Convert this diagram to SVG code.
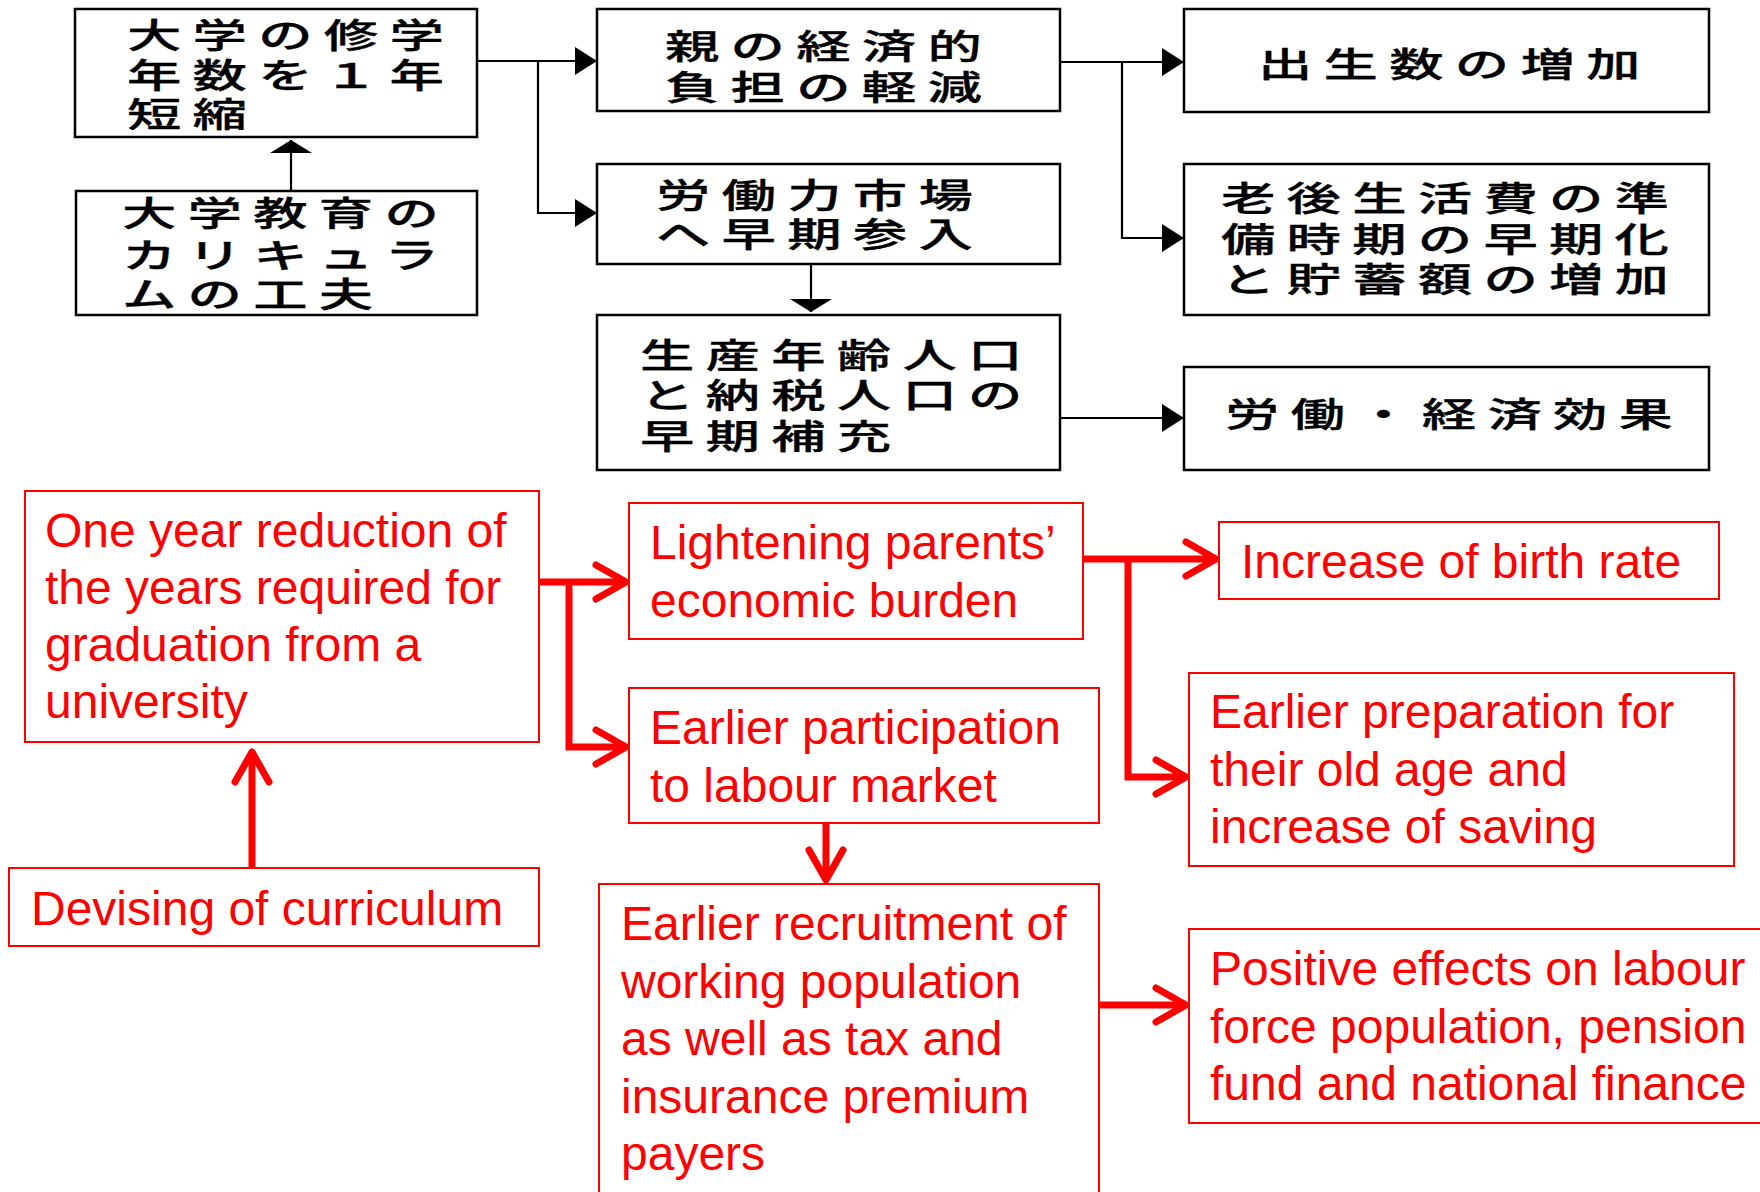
<svg xmlns="http://www.w3.org/2000/svg" width="1760" height="1192" viewBox="0 0 1760 1192">
<style>
.bbox{fill:none;stroke:#000;stroke-width:2.5}
.rbox{fill:none;stroke:#ff0000;stroke-width:2}
.jp{font-family:"Noto Sans CJK JP","Noto Sans CJK SC",sans-serif;font-size:34px;font-weight:500;letter-spacing:7px;fill:#000;stroke:#000;stroke-width:0.3px}
.en{font-family:"Liberation Sans",Arial,sans-serif;font-size:48px;fill:#ff0000}
.bl{fill:none;stroke:#000;stroke-width:2.2}
.rl{fill:none;stroke:#ff0000;stroke-width:7}
</style>
<defs>
<marker id="triH" markerUnits="userSpaceOnUse" markerWidth="60" markerHeight="60" viewBox="-30 -30 60 60" refX="0" refY="0" orient="auto" overflow="visible">
<path d="M-22,-14 L0,0 L-22,14 Z" fill="#000"/>
</marker>
<marker id="triV" markerUnits="userSpaceOnUse" markerWidth="60" markerHeight="60" viewBox="-30 -30 60 60" refX="0" refY="0" orient="auto" overflow="visible">
<path d="M-13,-21 L0,0 L-13,21 Z" fill="#000"/>
</marker>
<marker id="chev" markerUnits="userSpaceOnUse" markerWidth="80" markerHeight="80" viewBox="-40 -40 80 80" refX="0" refY="0" orient="auto" overflow="visible">
<path d="M-30,-17 L0,0 L-30,17" fill="none" stroke="#ff0000" stroke-width="7" stroke-linecap="round" stroke-linejoin="round"/>
</marker>
</defs>
<rect width="1760" height="1192" fill="#fff"/>

<g id="connectors">
<path class="bl" d="M477,61 H597" marker-end="url(#triH)"/>
<path class="bl" d="M538,61 V213 H597" marker-end="url(#triH)"/>
<path class="bl" d="M1060,62 H1184" marker-end="url(#triH)"/>
<path class="bl" d="M1122,62 V238 H1184" marker-end="url(#triH)"/>
<path class="bl" d="M811,264 V312" marker-end="url(#triV)"/>
<path class="bl" d="M291,191 V140" marker-end="url(#triV)"/>
<path class="bl" d="M1060,418 H1184" marker-end="url(#triH)"/>

<path class="rl" d="M539,582 H626" marker-end="url(#chev)"/>
<path class="rl" d="M569,582 V747 H626" marker-end="url(#chev)"/>
<path class="rl" d="M252,868 V752" marker-end="url(#chev)"/>
<path class="rl" d="M1083,559 H1216" marker-end="url(#chev)"/>
<path class="rl" d="M1128,559 V777 H1186" marker-end="url(#chev)"/>
<path class="rl" d="M826,823 V880" marker-end="url(#chev)"/>
<path class="rl" d="M1099,1005 H1186" marker-end="url(#chev)"/>
</g>

<g id="jpA">
<rect class="bbox" x="75" y="9" width="402" height="128"/>
<text class="jp" transform="translate(127,0) scale(1.6,1)"><tspan x="0" y="48">大学の修学</tspan><tspan x="0" y="88">年数を１年</tspan><tspan x="0" y="127">短縮</tspan></text>
</g>
<g id="jpB">
<rect class="bbox" x="76" y="191" width="401" height="124"/>
<text class="jp" transform="translate(122,0) scale(1.6,1)"><tspan x="0" y="226">大学教育の</tspan><tspan x="0" y="268">カリキュラ</tspan><tspan x="0" y="307">ムの工夫</tspan></text>
</g>
<g id="jpC">
<rect class="bbox" x="597" y="9" width="463" height="102"/>
<text class="jp" transform="translate(665,0) scale(1.6,1)"><tspan x="0" y="59">親の経済的</tspan><tspan x="0" y="100">負担の軽減</tspan></text>
</g>
<g id="jpD">
<rect class="bbox" x="597" y="164" width="463" height="100"/>
<text class="jp" transform="translate(656,0) scale(1.6,1)"><tspan x="0" y="208">労働力市場</tspan><tspan x="0" y="247">へ早期参入</tspan></text>
</g>
<g id="jpE">
<rect class="bbox" x="597" y="315" width="463" height="155"/>
<text class="jp" transform="translate(640,0) scale(1.6,1)"><tspan x="0" y="368">生産年齢人口</tspan><tspan x="0" y="408">と納税人口の</tspan><tspan x="0" y="449">早期補充</tspan></text>
</g>
<g id="jpF">
<rect class="bbox" x="1184" y="9" width="525" height="103"/>
<text class="jp" transform="translate(1258,0) scale(1.6,1)"><tspan x="0" y="77">出生数の増加</tspan></text>
</g>
<g id="jpG">
<rect class="bbox" x="1184" y="164" width="525" height="151"/>
<text class="jp" transform="translate(1221,0) scale(1.6,1)"><tspan x="0" y="211">老後生活費の準</tspan><tspan x="0" y="252">備時期の早期化</tspan><tspan x="0" y="292">と貯蓄額の増加</tspan></text>
</g>
<g id="jpH">
<rect class="bbox" x="1184" y="367" width="525" height="103"/>
<text class="jp" transform="translate(1225,0) scale(1.6,1)"><tspan x="0" y="427">労働・経済効果</tspan></text>
</g>

<g id="enR1">
<rect class="rbox" x="25" y="491" width="514" height="251"/>
<text class="en"><tspan x="45" y="547">One year reduction of</tspan><tspan x="45" y="604">the years required for</tspan><tspan x="45" y="661">graduation from a</tspan><tspan x="45" y="718">university</tspan></text>
</g>
<g id="enR2">
<rect class="rbox" x="9" y="868" width="530" height="78"/>
<text class="en" x="31" y="925">Devising of curriculum</text>
</g>
<g id="enR3">
<rect class="rbox" x="629" y="503" width="454" height="136"/>
<text class="en"><tspan x="650" y="559">Lightening parents’</tspan><tspan x="650" y="617">economic burden</tspan></text>
</g>
<g id="enR4">
<rect class="rbox" x="629" y="688" width="470" height="135"/>
<text class="en"><tspan x="650" y="744">Earlier participation</tspan><tspan x="650" y="802">to labour market</tspan></text>
</g>
<g id="enR5">
<rect class="rbox" x="599" y="884" width="500" height="330"/>
<text class="en"><tspan x="621" y="940">Earlier recruitment of</tspan><tspan x="621" y="998">working population</tspan><tspan x="621" y="1055">as well as tax and</tspan><tspan x="621" y="1113">insurance premium</tspan><tspan x="621" y="1170">payers</tspan></text>
</g>
<g id="enR6">
<rect class="rbox" x="1219" y="522" width="500" height="77"/>
<text class="en" x="1241" y="578">Increase of birth rate</text>
</g>
<g id="enR7">
<rect class="rbox" x="1189" y="673" width="545" height="193"/>
<text class="en"><tspan x="1210" y="728">Earlier preparation for</tspan><tspan x="1210" y="786">their old age and</tspan><tspan x="1210" y="843">increase of saving</tspan></text>
</g>
<g id="enR8">
<rect class="rbox" x="1189" y="929" width="590" height="194"/>
<text class="en"><tspan x="1210" y="985">Positive effects on labour</tspan><tspan x="1210" y="1043">force population, pension</tspan><tspan x="1210" y="1100">fund and national finance</tspan></text>
</g>
</svg>
